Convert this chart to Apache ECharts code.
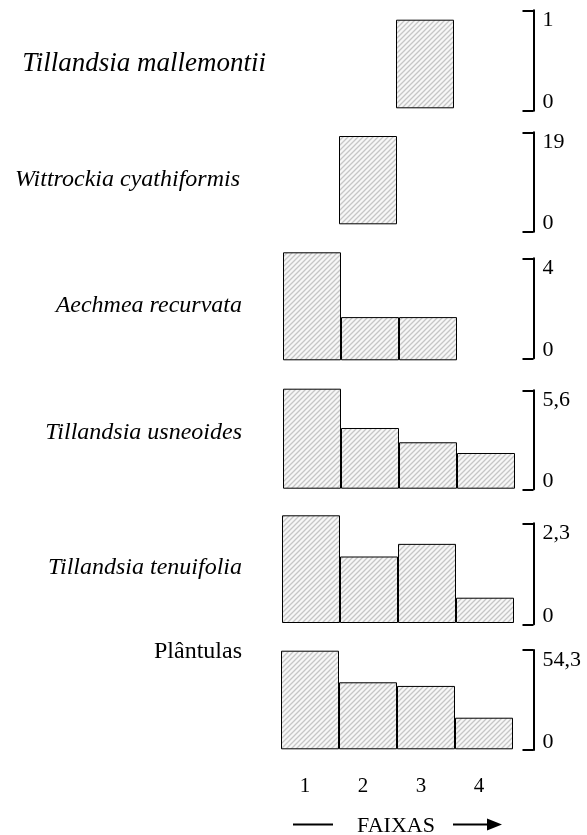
<!DOCTYPE html>
<html><head><meta charset="utf-8">
<script src="https://cdn.jsdelivr.net/npm/echarts@6/dist/echarts.min.js"></script>
<style>html,body{margin:0;padding:0;background:#fff}#c{width:587px;height:835px}</style>
</head><body><div id="c"></div>
<script>
// ---- data ----
const faixas = ['1', '2', '3', '4'];
const species = ['Tillandsia mallemontii', 'Wittrockia cyathiformis', 'Aechmea recurvata',
                 'Tillandsia usneoides', 'Tillandsia tenuifolia', 'Plântulas'];
const scaleMax = [1, 19, 4, 5.6, 2.3, 54.3];
const mallemontii = [0, 0, 1, 0];
const wittrockia  = [0, 19, 0, 0];
const aechmea     = [4, 1.6, 1.6, 0];
const usneoides   = [5.6, 3.4, 2.6, 2.0];
const tenuifolia  = [2.3, 1.42, 1.69, 0.54];
const plantulas   = [54.3, 36.9, 34.9, 17.4];
const seriesValues = [mallemontii, wittrockia, aechmea, usneoides, tenuifolia, plantulas];

// ---- layout ----
const barLeft   = [280, 281, 283, 283, 282, 281];
const barTop    = [19.7, 136, 252.3, 388.7, 515.3, 650.7];
const barHeight = [88.6, 88.3, 108, 100, 107.7, 98.6];
const brTop     = [10.3, 132.3, 258.3, 390.3, 523.3, 650];
const brHeight  = [100.4, 99.4, 100, 99, 101, 100];
const labRight  = [266, 240, 242, 242, 242, 242];
const labY      = [64, 180, 306, 433, 568, 652];
const labSize   = [27, 24, 24, 24, 24, 24];
const labItalic = [true, true, true, true, true, false];
const FONT = '"Liberation Serif", "Times New Roman", serif';

function hatch() {
  const s = 5, c = document.createElement('canvas');
  c.width = c.height = s;
  const g = c.getContext('2d');
  g.fillStyle = '#f7f7f7'; g.fillRect(0, 0, s, s);
  g.strokeStyle = '#c6c6c6'; g.lineWidth = 1.3;
  g.beginPath();
  g.moveTo(0, s); g.lineTo(s, 0);
  g.moveTo(-1, 1); g.lineTo(1, -1);
  g.moveTo(s - 1, s + 1); g.lineTo(s + 1, s - 1);
  g.stroke();
  return c;
}
const pattern = { image: hatch(), repeat: 'repeat' };

const grid = [], xAxis = [], yAxis = [], series = [], graphic = [];
const n = species.length;
for (let i = 0; i < n; i++) {
  grid.push({ left: barLeft[i], width: 232, top: barTop[i], height: barHeight[i], containLabel: false, outerBoundsMode: 'none' });
  xAxis.push({
    type: 'category', data: faixas, gridIndex: i,
    axisLine: { show: false }, axisTick: { show: false },
    axisLabel: { show: i === n - 1, color: '#000', fontFamily: FONT, fontSize: 21, margin: 27, padding: [0, 10, 0, 0] }
  });
  yAxis.push({ type: 'value', gridIndex: i, min: 0, max: scaleMax[i], show: false });
  series.push({
    type: 'bar', xAxisIndex: i, yAxisIndex: i, barCategoryGap: '0%', clip: false,
    data: seriesValues[i].map(v => v === 0 ? '-' : v),
    itemStyle: { color: pattern, borderColor: '#000', borderWidth: 1 },
    silent: true
  });
}
for (let i = 0; i < n; i++) {
  grid.push({ left: 520, width: 13.5, top: brTop[i], height: brHeight[i], containLabel: false, outerBoundsMode: 'none' });
  xAxis.push({ type: 'value', gridIndex: n + i, show: false });
  yAxis.push({
    type: 'value', gridIndex: n + i, position: 'right', min: 0, max: scaleMax[i], interval: scaleMax[i],
    axisLine: { show: true, onZero: false, lineStyle: { color: '#000', width: 2 } },
    axisTick: { show: true, inside: true, length: 11, lineStyle: { color: '#000', width: 2 } },
    splitLine: { show: false },
    axisLabel: {
      color: '#000', fontFamily: FONT, fontSize: 22, margin: 9, verticalAlign: 'middle',
      formatter: v => v === 0 ? '{b|0}' : '{t|' + String(v).replace('.', ',') + '}',
      rich: {
        t: { fontFamily: FONT, fontSize: 22, color: '#000', padding: [20, 0, 0, 0] },
        b: { fontFamily: FONT, fontSize: 22, color: '#000', padding: [0, 0, 16, 0] }
      }
    }
  });
}
for (let i = 0; i < n; i++) {
  graphic.push({
    type: 'text', x: labRight[i], y: labY[i], silent: true,
    style: { text: species[i], fill: '#000', fontFamily: FONT, fontSize: labSize[i],
             fontStyle: labItalic[i] ? 'italic' : 'normal', align: 'right', verticalAlign: 'middle' }
  });
}
graphic.push(
  { type: 'line', shape: { x1: 293, y1: 824.5, x2: 333, y2: 824.5 }, style: { stroke: '#000', lineWidth: 2 } },
  { type: 'line', shape: { x1: 453, y1: 824.5, x2: 490, y2: 824.5 }, style: { stroke: '#000', lineWidth: 2 } },
  { type: 'polygon', shape: { points: [[487, 818.5], [502, 824.5], [487, 830.5]] }, style: { fill: '#000' } },
  { type: 'text', x: 396, y: 826, style: { text: 'FAIXAS', fill: '#000', fontFamily: FONT, fontSize: 22, align: 'center', verticalAlign: 'middle' } }
);

const chart = echarts.init(document.getElementById('c'), null, { renderer: 'canvas' });
chart.setOption({ animation: false, backgroundColor: '#fff', grid, xAxis, yAxis, series, graphic });
</script>
</body></html>
